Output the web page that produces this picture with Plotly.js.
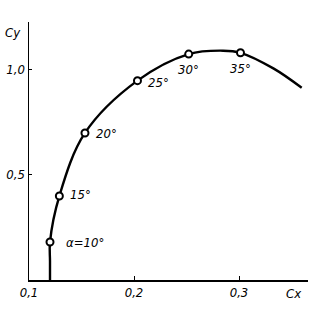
<!DOCTYPE html>
<html>
<head>
<meta charset="utf-8">
<script src="https://cdn.plot.ly/plotly-3.0.1.min.js"></script>
<style>html,body{margin:0;padding:0;background:#fff}#chart{width:326px;height:311px}</style>
</head>
<body>
<div id="chart"></div>
<script>
// Polar curve Cy vs Cx
const curveCx = [0.1200, 0.1200, 0.1200, 0.1289, 0.1533, 0.2033, 0.2521, 0.2848, 0.3014, 0.3327, 0.3597];
const curveCy = [0.000, 0.090, 0.180, 0.398, 0.697, 0.945, 1.071, 1.087, 1.077, 1.003, 0.911];
// Marked angles of attack
const pointCx = [0.1200, 0.1289, 0.1533, 0.2033, 0.2521, 0.3014];
const pointCy = [0.180, 0.398, 0.697, 0.945, 1.071, 1.077];
const pointLabels = ["α=10°", "15°", "20°", "25°", "30°", "35°"];
// Axis ticks
const xTickVals = [0.1, 0.2, 0.3];
const xTickText = ["0,1", "0,2", "0,3"];
const yTickVals = [0.5, 1.0];
const yTickText = ["0,5", "1,0"];

const FONT = "DejaVu Sans Condensed, Liberation Sans Narrow, Arial, sans-serif";
const lblFont = {family: FONT, size: 13, color: "#000", style: "italic"};

// label offsets (pixels) relative to each marker
const offs = [[14, 0, "left"], [9, 2, "left"], [9, -1, "left"], [9, -2, "left"], [0, -15, "center"], [0, -16, "center"]];

const annotations = pointLabels.map((t, i) => ({
  x: pointCx[i], y: pointCy[i], xref: "x", yref: "y", text: t,
  showarrow: false, xanchor: offs[i][2], yanchor: "middle",
  xshift: offs[i][0], yshift: offs[i][1], font: lblFont
}));
annotations.push({x: 1, y: 0, xref: "paper", yref: "paper", text: "Cx", showarrow: false,
  xanchor: "center", yanchor: "top", xshift: -14, yshift: -4, font: lblFont});
annotations.push({x: 0, y: 1, xref: "paper", yref: "paper", text: "Cy", showarrow: false,
  xanchor: "right", yanchor: "top", xshift: -6, yshift: -1, font: lblFont});

const traces = [
  {x: curveCx, y: curveCy, mode: "lines", line: {color: "#000", width: 2.4, shape: "spline", smoothing: 1}, hoverinfo: "skip"},
  {x: pointCx, y: pointCy, mode: "markers", marker: {symbol: "circle", size: 7, color: "#fff", line: {color: "#000", width: 2}}}
];

const layout = {
  width: 326, height: 311,
  margin: {l: 29, r: 18, t: 22, b: 31},
  paper_bgcolor: "#fff", plot_bgcolor: "#fff",
  showlegend: false,
  xaxis: {range: [0.1, 0.3657], tickvals: xTickVals, ticktext: xTickText, showgrid: false, zeroline: false,
    showline: true, linecolor: "#000", linewidth: 1.5, ticks: "inside", ticklen: 4, tickwidth: 1, tickcolor: "#000",
    tickfont: lblFont, fixedrange: true},
  yaxis: {range: [0, 1.223], tickvals: yTickVals, ticktext: yTickText, showgrid: false, zeroline: false,
    showline: true, linecolor: "#000", linewidth: 1.5, ticks: "inside", ticklen: 3, tickwidth: 1, tickcolor: "#000",
    tickfont: lblFont, fixedrange: true},
  annotations: annotations
};

Plotly.newPlot("chart", traces, layout, {displayModeBar: false, staticPlot: true});
</script>
</body>
</html>
